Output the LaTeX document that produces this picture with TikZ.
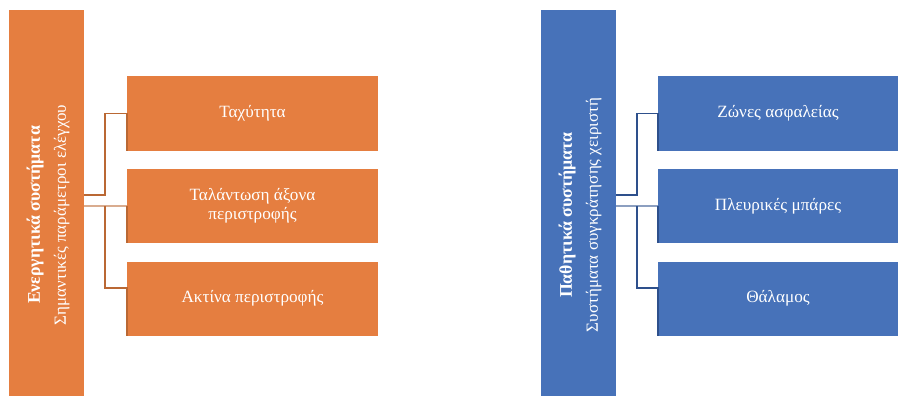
\documentclass[tikz,border=0pt]{standalone}
\usepackage{fontspec}
\setmainfont{Liberation Serif}
\usepackage{tikz}
\usetikzlibrary{positioning,calc}
\usepackage{xcolor}
\definecolor{actorange}{RGB}{229,126,64}
\definecolor{actline}{RGB}{186,104,52}
\definecolor{pasblue}{RGB}{71,114,185}
\definecolor{pasline}{RGB}{46,80,140}

\begin{document}
\begin{tikzpicture}[x=1pt, y=-1pt,
    headbox/.style={rectangle, minimum width=75pt, minimum height=386pt, inner sep=0pt},
    itembox/.style={rectangle, minimum height=74pt, inner sep=2pt, text=white,
                 align=center, font=\fontsize{17.2}{19.5}\selectfont},
    headtext/.style={rotate=90, text=white, align=center, font=\fontsize{17}{26}\selectfont},
    link/.style={line width=1.6pt, line join=miter}
]
\useasboundingbox (0,0) rectangle (898,396);

% left group
\node[headbox, fill=actorange] (act) at (46.5,203) {};
\node[headtext] (acttxt) at (48,215) {{\fontsize{17.8}{26}\selectfont\textbf{Ενεργητικά συστήματα}}\\Σημαντικές παράμετροι ελέγχου};
\node[itembox, fill=actorange, minimum width=251pt] (speed)  at (252.5,113.5) {Ταχύτητα};
\node[itembox, fill=actorange, minimum width=251pt] (swing)  at (252.5,206)   {Ταλάντωση άξονα\\περιστροφής};
\node[itembox, fill=actorange, minimum width=251pt] (radius) at (252.5,298.5) {Ακτίνα περιστροφής};

\draw[link, actline] ([yshift=8pt]act.east) -- ++(21,0) |- (speed.west) -- (speed.south west);
\draw[link, actline!55] ([yshift=-3pt]act.east) -- (swing.west);
\draw[link, actline] (swing.west) -- (swing.south west);
\draw[link, actline] ([xshift=21pt,yshift=-3pt]act.east) |- ([yshift=10.5pt]radius.west) -- (radius.south west);

% right group
\node[headbox, fill=pasblue] (pas) at (578.5,203) {};
\node[headtext] (pastxt) at (580,215) {{\fontsize{17.8}{26}\selectfont\textbf{Παθητικά συστήματα}}\\Συστήματα συγκράτησης χειριστή};
\node[itembox, fill=pasblue, minimum width=240pt] (zones) at (778,113.5) {Ζώνες ασφαλείας};
\node[itembox, fill=pasblue, minimum width=240pt] (bars)  at (778,206)   {Πλευρικές μπάρες};
\node[itembox, fill=pasblue, minimum width=240pt] (cabin) at (778,298.5) {Θάλαμος};

\draw[link, pasline] ([yshift=8pt]pas.east) -- ++(21,0) |- (zones.west) -- (zones.south west);
\draw[link, pasline!55] ([yshift=-3pt]pas.east) -- (bars.west);
\draw[link, pasline] (bars.west) -- (bars.south west);
\draw[link, pasline] ([xshift=21pt,yshift=-3pt]pas.east) |- ([yshift=10.5pt]cabin.west) -- (cabin.south west);
\end{tikzpicture}
\end{document}
